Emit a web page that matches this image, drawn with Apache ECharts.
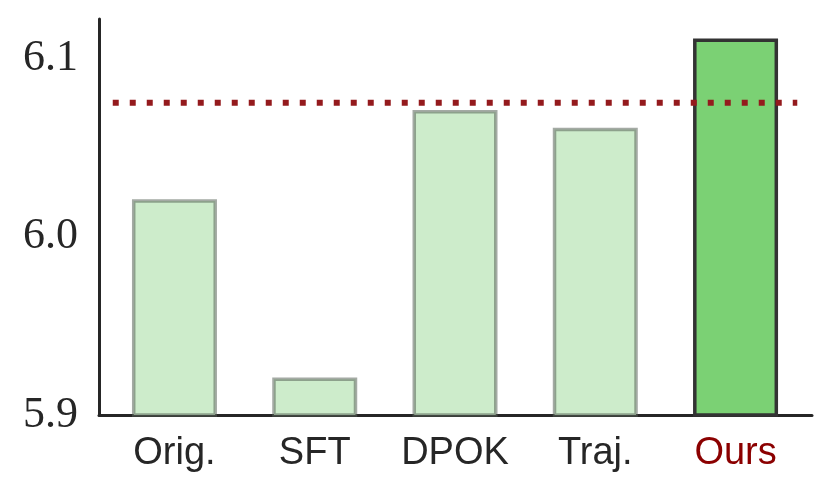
<!DOCTYPE html>
<html>
<head>
<meta charset="utf-8">
<script src="https://cdn.jsdelivr.net/npm/echarts@6/dist/echarts.min.js"></script>
<style>
  html, body { margin: 0; padding: 0; background: #fff; }
  #chart { width: 831px; height: 498px; }
</style>
</head>
<body>
<div id="chart"></div>
<script>
  // data
  var categories = ['Orig.', 'SFT', 'DPOK', 'Traj.', 'Ours'];
  var scores = [6.021, 5.921, 6.071, 6.061, 6.111];
  var refScore = 6.075;       // dotted red line
  var refSpan = [-0.44, 4.44]; // x range of the dotted line
  var yTicks = [5.9, 6.0, 6.1];

  var chart = echarts.init(document.getElementById('chart'));

  var barData = scores.map(function (v, i) {
    var ours = i === categories.length - 1;
    return {
      value: [i, v],
      itemStyle: ours ? {
        color: '#7bd174',
        borderColor: '#333333',
        borderWidth: 3.5
      } : {
        color: '#cdeccb',
        borderColor: 'rgba(90,100,90,0.55)',
        borderWidth: 3.5
      }
    };
  });

  chart.setOption({
    animation: false,
    grid: { left: 99, right: 19, top: 19, bottom: 83 },
    xAxis: {
      type: 'value',
      min: -0.538,
      max: 4.545,
      splitLine: { show: false },
      axisTick: { show: false },
      axisLine: { onZero: false, lineStyle: { color: '#262626', width: 3 } },
      axisLabel: {
        customValues: [0, 1, 2, 3, 4],
        margin: 20,
        fontFamily: 'Liberation Sans',
        fontSize: 38,
        color: '#262626',
        formatter: function (v) {
          var i = Math.round(v);
          return i === categories.length - 1 ? '{r|' + categories[i] + '}' : categories[i];
        },
        rich: {
          r: { color: '#8b0000', fontFamily: 'Liberation Sans', fontSize: 38 }
        }
      }
    },
    yAxis: {
      type: 'value',
      min: 5.9,
      max: 6.122,
      interval: 0.1,
      splitLine: { show: false },
      axisTick: { show: false },
      axisLine: { show: true, onZero: false, lineStyle: { color: '#262626', width: 3 } },
      axisLabel: {
        customValues: yTicks,
        margin: 21,
        fontFamily: 'Liberation Serif',
        fontSize: 44,
        color: '#262626',
        formatter: function (v) { return v.toFixed(1); }
      }
    },
    series: [{
      type: 'bar',
      barWidth: 85,
      data: barData,
      z: 2
    }, {
      type: 'line',
      symbol: 'none',
      data: [[refSpan[0], refScore], [refSpan[1], refScore]],
      lineStyle: { color: '#941a1d', width: 6, type: [6, 11], cap: 'butt' },
      z: 5
    }]
  });
</script>
</body>
</html>
